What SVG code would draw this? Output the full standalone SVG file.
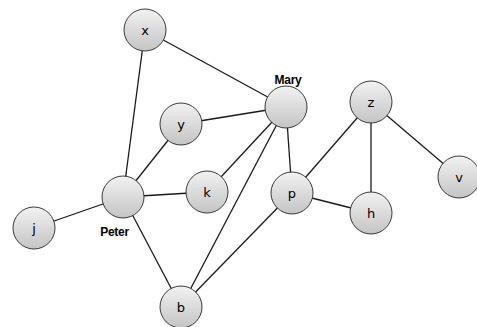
<svg xmlns="http://www.w3.org/2000/svg" width="477" height="327" viewBox="0 0 477 327">
<defs>
<linearGradient id="g" x1="0" y1="0" x2="0" y2="1">
<stop offset="0" stop-color="#f2f2f2"/>
<stop offset="1" stop-color="#c4c4c4"/>
</linearGradient>
</defs>
<style>
.n{fill:url(#g);stroke:#3a3a3a;stroke-width:1}
.t{font-family:"DejaVu Sans","Liberation Sans",sans-serif;font-size:13px;fill:#000;text-anchor:middle}
.l{font-family:"Liberation Sans",Arial,sans-serif;font-size:12px;font-weight:bold;fill:#000;text-anchor:middle;letter-spacing:-0.3px}
.e line{stroke:#1a1a1a;stroke-width:1.3}
</style>
<rect width="477" height="327" fill="#fff"/>
<g id="connectors" class="e">
<line x1="145" y1="30" x2="286" y2="107"/>
<line x1="145" y1="30" x2="123" y2="197"/>
<line x1="181" y1="124" x2="286" y2="107"/>
<line x1="181" y1="124" x2="123" y2="197"/>
<line x1="286" y1="107" x2="207" y2="192"/>
<line x1="286" y1="107" x2="181" y2="307"/>
<line x1="286" y1="107" x2="292" y2="193"/>
<line x1="123" y1="197" x2="207" y2="192"/>
<line x1="123" y1="197" x2="34" y2="228"/>
<line x1="123" y1="197" x2="181" y2="307"/>
<line x1="292" y1="193" x2="181" y2="307"/>
<line x1="292" y1="193" x2="371" y2="102"/>
<line x1="292" y1="193" x2="371" y2="213"/>
<line x1="371" y1="102" x2="371" y2="213"/>
<line x1="371" y1="102" x2="459" y2="177"/>
</g>
<g id="node-x"><circle class="n" cx="145" cy="30" r="21"/><text class="t" x="145" y="35">x</text></g>
<g id="node-Mary"><circle class="n" cx="286" cy="107" r="21"/><text class="l" x="288" y="84">Mary</text></g>
<g id="node-y"><circle class="n" cx="181" cy="124" r="21"/><text class="t" x="181" y="129">y</text></g>
<g id="node-Peter"><circle class="n" cx="123" cy="197" r="21"/><text class="l" x="114.5" y="236">Peter</text></g>
<g id="node-k"><circle class="n" cx="207" cy="192" r="21"/><text class="t" x="207" y="197">k</text></g>
<g id="node-j"><circle class="n" cx="34" cy="228" r="21"/><text class="t" x="34" y="233">j</text></g>
<g id="node-b"><circle class="n" cx="181" cy="307" r="21"/><text class="t" x="181" y="312">b</text></g>
<g id="node-p"><circle class="n" cx="292" cy="193" r="21"/><text class="t" x="292" y="198">p</text></g>
<g id="node-z"><circle class="n" cx="371" cy="102" r="21"/><text class="t" x="371" y="107">z</text></g>
<g id="node-h"><circle class="n" cx="371" cy="213" r="21"/><text class="t" x="371" y="218">h</text></g>
<g id="node-v"><circle class="n" cx="459" cy="177" r="21"/><text class="t" x="459" y="182">v</text></g>
</svg>
